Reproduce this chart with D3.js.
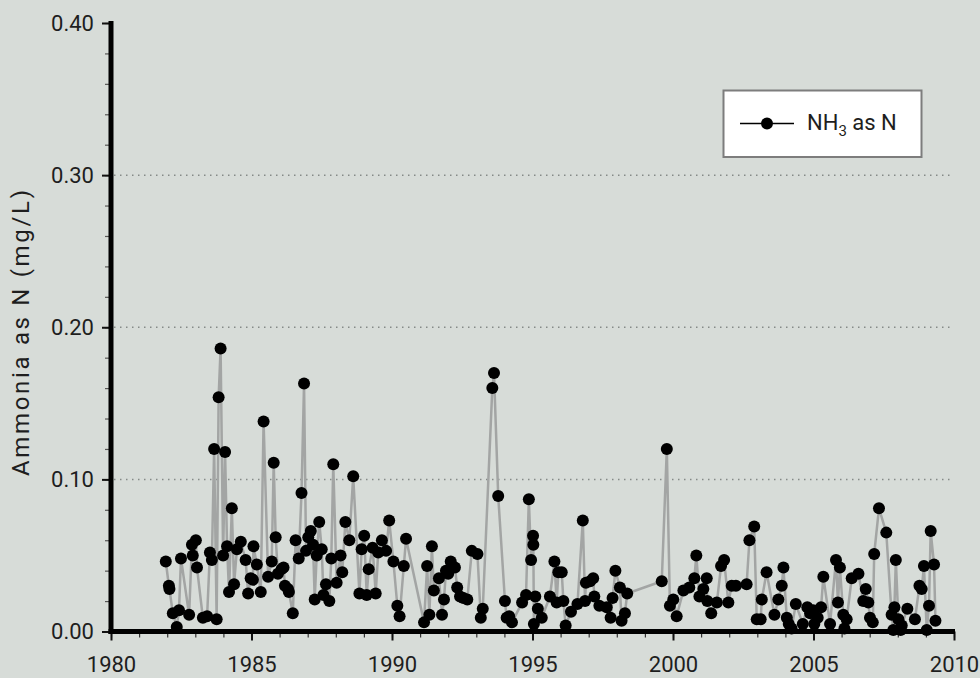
<!DOCTYPE html>
<html>
<head>
<meta charset="utf-8">
<script src="https://cdn.jsdelivr.net/npm/d3@7"></script>
<style>
  html, body { margin: 0; padding: 0; background: #d7dcd8; }
  svg { display: block; }
  text { font-family: Roboto, "DejaVu Sans", sans-serif; fill: #1e1e1e; }
</style>
</head>
<body>
<svg id="chart" width="980" height="678"></svg>
<script>
// ---- Data (decimal year of sample, NH3 as N in mg/L) ----
const sampleYears = [
  1981.95, 1982.06, 1982.08, 1982.20, 1982.34, 1982.42, 1982.49, 1982.78, 1982.88, 1982.91,
  1983.02, 1983.06, 1983.27, 1983.42, 1983.52, 1983.59, 1983.67, 1983.76, 1983.83, 1983.90,
  1983.99, 1984.06, 1984.13, 1984.20, 1984.30, 1984.38, 1984.48, 1984.62, 1984.79, 1984.88,
  1984.97, 1985.05, 1985.07, 1985.19, 1985.33, 1985.43, 1985.59, 1985.72, 1985.79, 1985.86,
  1985.94, 1986.07, 1986.14, 1986.19, 1986.30, 1986.33, 1986.47, 1986.57, 1986.68, 1986.78,
  1986.87, 1986.94, 1987.02, 1987.11, 1987.19, 1987.25, 1987.32, 1987.41, 1987.50, 1987.56,
  1987.65, 1987.77, 1987.84, 1987.91, 1988.03, 1988.17, 1988.23, 1988.34, 1988.48, 1988.62,
  1988.84, 1988.92, 1989.01, 1989.10, 1989.17, 1989.31, 1989.42, 1989.51, 1989.64, 1989.79,
  1989.90, 1990.05, 1990.19, 1990.27, 1990.42, 1990.50, 1991.14, 1991.25, 1991.33, 1991.42,
  1991.49, 1991.67, 1991.78, 1991.85, 1991.92, 1992.00, 1992.09, 1992.24, 1992.32, 1992.42,
  1992.54, 1992.68, 1992.84, 1993.04, 1993.16, 1993.23, 1993.57, 1993.63, 1993.78, 1994.02,
  1994.08, 1994.17, 1994.27, 1994.63, 1994.77, 1994.87, 1994.95, 1995.02, 1995.03, 1995.05,
  1995.10, 1995.19, 1995.33, 1995.62, 1995.78, 1995.86, 1995.92, 1996.04, 1996.10, 1996.18,
  1996.37, 1996.60, 1996.79, 1996.87, 1996.90, 1997.05, 1997.16, 1997.20, 1997.38, 1997.64,
  1997.78, 1997.85, 1997.95, 1998.11, 1998.17, 1998.29, 1998.37, 1999.60, 1999.78, 1999.89,
  2000.01, 2000.13, 2000.37, 2000.58, 2000.76, 2000.83, 2000.94, 2001.08, 2001.20, 2001.22,
  2001.36, 2001.56, 2001.71, 2001.82, 2001.97, 2002.09, 2002.24, 2002.62, 2002.72, 2002.89,
  2002.98, 2003.12, 2003.16, 2003.33, 2003.61, 2003.75, 2003.87, 2003.93, 2004.05, 2004.12,
  2004.22, 2004.37, 2004.62, 2004.78, 2004.88, 2004.99, 2005.03, 2005.15, 2005.27, 2005.35,
  2005.59, 2005.80, 2005.87, 2005.94, 2006.06, 2006.10, 2006.18, 2006.36, 2006.60, 2006.77,
  2006.86, 2006.95, 2007.01, 2007.11, 2007.16, 2007.33, 2007.59, 2007.78, 2007.84, 2007.88,
  2007.93, 2008.02, 2008.10, 2008.14, 2008.34, 2008.61, 2008.77, 2008.85, 2008.93, 2009.03,
  2009.11, 2009.17, 2009.29, 2009.34
];
const ammoniaN = [
  0.046, 0.030, 0.028, 0.012, 0.003, 0.014, 0.048, 0.011, 0.057, 0.050,
  0.060, 0.042, 0.009, 0.010, 0.052, 0.047, 0.120, 0.008, 0.154, 0.186,
  0.050, 0.118, 0.056, 0.026, 0.081, 0.031, 0.054, 0.059, 0.047, 0.025,
  0.035, 0.034, 0.056, 0.044, 0.026, 0.138, 0.036, 0.046, 0.111, 0.062,
  0.038, 0.041, 0.042, 0.030, 0.028, 0.026, 0.012, 0.060, 0.048, 0.091,
  0.163, 0.053, 0.062, 0.066, 0.057, 0.021, 0.050, 0.072, 0.054, 0.024,
  0.031, 0.020, 0.048, 0.110, 0.032, 0.050, 0.039, 0.072, 0.060, 0.102,
  0.025, 0.054, 0.063, 0.024, 0.041, 0.055, 0.025, 0.052, 0.060, 0.053,
  0.073, 0.046, 0.017, 0.010, 0.043, 0.061, 0.006, 0.043, 0.011, 0.056,
  0.027, 0.035, 0.011, 0.021, 0.040, 0.038, 0.046, 0.042, 0.029, 0.023,
  0.022, 0.021, 0.053, 0.051, 0.009, 0.015, 0.160, 0.170, 0.089, 0.020,
  0.009, 0.010, 0.006, 0.019, 0.024, 0.087, 0.047, 0.063, 0.057, 0.005,
  0.023, 0.015, 0.009, 0.023, 0.046, 0.019, 0.039, 0.039, 0.020, 0.004,
  0.013, 0.018, 0.073, 0.020, 0.032, 0.033, 0.035, 0.023, 0.017, 0.016,
  0.009, 0.022, 0.040, 0.029, 0.007, 0.012, 0.025, 0.033, 0.120, 0.017,
  0.021, 0.010, 0.027, 0.029, 0.035, 0.050, 0.023, 0.028, 0.035, 0.020,
  0.012, 0.019, 0.043, 0.047, 0.019, 0.030, 0.030, 0.031, 0.060, 0.069,
  0.008, 0.008, 0.021, 0.039, 0.011, 0.021, 0.030, 0.042, 0.009, 0.005,
  0.002, 0.018, 0.005, 0.016, 0.012, 0.014, 0.005, 0.009, 0.016, 0.036,
  0.005, 0.047, 0.019, 0.042, 0.011, 0.002, 0.008, 0.035, 0.038, 0.020,
  0.028, 0.019, 0.009, 0.006, 0.051, 0.081, 0.065, 0.011, 0.001, 0.016,
  0.047, 0.008, 0.001, 0.004, 0.015, 0.008, 0.030, 0.028, 0.043, 0.001,
  0.017, 0.066, 0.044, 0.007
];
const xMajorTicks = [1980, 1985, 1990, 1995, 2000, 2005, 2010];
const yMajorTicks = [0.0, 0.1, 0.2, 0.3, 0.4];
const yGridTicks = [0.1, 0.2, 0.3];
const seriesLabel = "NH";
const yTitle = "Ammonia as N (mg/L)";

const points = sampleYears.map((t, i) => ({ t, v: ammoniaN[i] }));

const svg = d3.select("#chart");
const x = d3.scaleLinear().domain([1980, 2010]).range([111, 954]);
const y = d3.scaleLinear().domain([0, 0.4]).range([631.5, 23]);

// background
svg.append("rect").attr("width", 980).attr("height", 678).attr("fill", "#d7dcd8");

// dotted gridlines
svg.append("g").selectAll("line").data(yGridTicks).join("line")
  .attr("x1", x(1980) + 3).attr("x2", x(2010))
  .attr("y1", d => y(d)).attr("y2", d => y(d))
  .attr("stroke", "#858a87").attr("stroke-width", 1.5)
  .attr("stroke-dasharray", "1.5,4.5");

// line
svg.append("path").datum(points)
  .attr("fill", "none").attr("stroke", "#a3a5a4").attr("stroke-width", 2.5)
  .attr("stroke-linejoin", "round")
  .attr("d", d3.line().x(d => x(d.t)).y(d => y(d.v)));

// minor x ticks (every year)
const xMinor = d3.range(1980, 2011);
svg.append("g").attr("transform", `translate(0,${y(0)})`)
  .call(d3.axisBottom(x).tickValues(xMinor).tickSize(6).tickFormat(""))
  .call(g => g.select(".domain").remove())
  .call(g => g.selectAll("line").attr("stroke", "#333").attr("stroke-width", 1.2));

// major x axis
svg.append("g").attr("transform", `translate(0,${y(0)})`)
  .call(d3.axisBottom(x).tickValues(xMajorTicks).tickSize(9).tickPadding(16).tickFormat(d3.format("d")))
  .call(g => g.select(".domain").remove())
  .call(g => g.selectAll("line").attr("stroke", "#111").attr("stroke-width", 2))
  .call(g => g.selectAll("text").attr("font-size", 22).attr("fill", "#1e1e1e")
     .attr("font-family", "Roboto, sans-serif"));

// minor y ticks
const yMinor = d3.range(0, 0.401, 0.02);
svg.append("g").attr("transform", `translate(${x(1980)},0)`)
  .call(d3.axisLeft(y).tickValues(yMinor).tickSize(6).tickFormat(""))
  .call(g => g.select(".domain").remove())
  .call(g => g.selectAll("line").attr("stroke", "#555").attr("stroke-width", 1.2));

// major y axis
svg.append("g").attr("transform", `translate(${x(1980)},0)`)
  .call(d3.axisLeft(y).tickValues(yMajorTicks).tickSize(9).tickPadding(8).tickFormat(d3.format(".2f")))
  .call(g => g.select(".domain").remove())
  .call(g => g.selectAll("line").attr("stroke", "#111").attr("stroke-width", 2))
  .call(g => g.selectAll("text").attr("font-size", 22).attr("fill", "#1e1e1e")
     .attr("font-family", "Roboto, sans-serif"));

// thick axis lines
svg.append("line").attr("x1", x(1980)).attr("x2", x(1980))
  .attr("y1", y(0.4) - 2).attr("y2", y(0) + 2.5)
  .attr("stroke", "#000").attr("stroke-width", 5);
svg.append("line").attr("x1", x(1980) - 2.5).attr("x2", x(2010) + 1)
  .attr("y1", y(0)).attr("y2", y(0))
  .attr("stroke", "#000").attr("stroke-width", 5);

// markers
svg.append("g").selectAll("circle").data(points).join("circle")
  .attr("cx", d => x(d.t)).attr("cy", d => y(d.v)).attr("r", 6)
  .attr("fill", "#000");

// y title
svg.append("text")
  .attr("transform", `translate(29,${333}) rotate(-90)`)
  .attr("text-anchor", "middle")
  .attr("font-size", 24)
  .attr("textLength", 286).attr("lengthAdjust", "spacing")
  .text(yTitle);

// legend
const lg = svg.append("g");
lg.append("rect").attr("x", 723.5).attr("y", 90.5).attr("width", 198).attr("height", 66.5)
  .attr("fill", "#fff").attr("stroke", "#7d7d7d").attr("stroke-width", 2);
lg.append("line").attr("x1", 740).attr("x2", 794).attr("y1", 123.5).attr("y2", 123.5)
  .attr("stroke", "#000").attr("stroke-width", 1.5);
lg.append("circle").attr("cx", 767).attr("cy", 123.5).attr("r", 6).attr("fill", "#000");
const lt = lg.append("text").attr("x", 807).attr("y", 129.5).attr("font-size", 22);
lt.append("tspan").text(seriesLabel);
lt.append("tspan").attr("font-size", 15).attr("dy", 6).text("3");
lt.append("tspan").attr("dy", -6).text(" as N");
</script>
</body>
</html>
